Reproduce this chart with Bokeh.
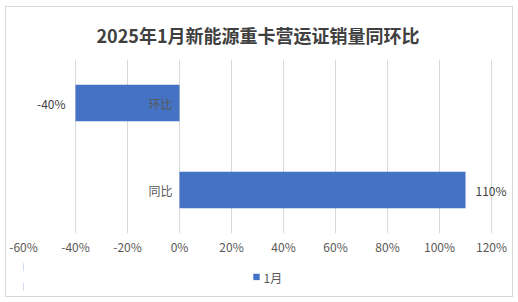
from bokeh.plotting import figure
from bokeh.layouts import column
from bokeh.models import (ColumnDataSource, FactorRange, Range1d, FixedTicker,
                          PrintfTickFormatter, Legend, LegendItem)
from bokeh.core.properties import value
from bokeh.embed import file_html
from bokeh.resources import INLINE

title_text = "2025年1月新能源重卡营运证销量同环比"
categories = ["环比", "同比"]
values_pct = [-40, 110]
series_name = "1月"
x_ticks = [-60, -40, -20, 0, 20, 40, 60, 80, 100, 120]

FONT = "Noto Sans CJK SC"
BAR = "#4472C4"
GRID = "#d9d9d9"
TXT = "#595959"

labels = [f"{v:.0f}%" for v in values_pct]
src = ColumnDataSource(dict(
    cat=categories,
    val=values_pct,
    zero=[0] * len(values_pct),
    lab=labels,
))

# 20% per 52 px; frame extends right so the outer data label fits
p = figure(width=506, height=250, output_backend="svg", toolbar_location=None,
           y_range=FactorRange(factors=list(reversed(categories))),
           x_range=Range1d(x_ticks[0], x_ticks[-1] + 21 * 20 / 52),
           min_border_left=17, min_border_right=0,
           min_border_top=52, min_border_bottom=24)
p.outline_line_color = None
p.background_fill_color = "white"
p.border_fill_color = "white"

p.title.text = title_text
p.title.align = "left"
p.title.offset = 73
p.title.vertical_align = "middle"
p.title.text_font = FONT
p.title.text_font_size = "18px"
p.title.text_font_style = "bold"
p.title.text_color = "#404040"
p.title.standoff = 22

r = p.hbar(y="cat", left="zero", right="val", height=0.42, source=src,
           fill_color=BAR, line_color=None)

# data labels: negative to the left of the bar end, positive to the right
neg = ColumnDataSource(dict(
    x=[v for v in values_pct if v < 0],
    y=[c for c, v in zip(categories, values_pct) if v < 0],
    t=[l for l, v in zip(labels, values_pct) if v < 0]))
pos = ColumnDataSource(dict(
    x=[v for v in values_pct if v >= 0],
    y=[c for c, v in zip(categories, values_pct) if v >= 0],
    t=[l for l, v in zip(labels, values_pct) if v >= 0]))
p.text(x="x", y="y", text="t", source=neg, text_align="right", x_offset=-10,
       text_baseline="middle", text_font=value(FONT),
       text_font_size="12px", text_color="#404040")
p.text(x="x", y="y", text="t", source=pos, text_align="left", x_offset=10,
       text_baseline="middle", text_font=value(FONT),
       text_font_size="12px", text_color="#404040")
# category labels next to the zero axis
p.text(x="zero", y="cat", text="cat", source=src, text_align="right",
       x_offset=-7, text_baseline="middle", text_font=value(FONT),
       text_font_size="12px", text_color=TXT)

p.xaxis.ticker = FixedTicker(ticks=x_ticks)
p.xaxis.formatter = PrintfTickFormatter(format="%d%%")
p.xaxis.axis_line_color = None
p.xaxis.major_tick_line_color = None
p.xaxis.minor_tick_line_color = None
p.xaxis.major_tick_out = 0
p.xaxis.major_tick_in = 0
p.xaxis.major_label_standoff = 4
p.xaxis.major_label_text_font = FONT
p.xaxis.major_label_text_font_size = "12px"
p.xaxis.major_label_text_color = TXT

p.yaxis.visible = False
p.ygrid.grid_line_color = None
p.xgrid.grid_line_color = GRID
p.xgrid.grid_line_width = 1

# legend strip below the chart; its key renderer's bars lie outside its view
pl = figure(width=506, height=39, output_backend="svg", toolbar_location=None,
            x_axis_type=None, y_axis_type=None,
            y_range=FactorRange(factors=list(reversed(categories))),
            x_range=Range1d(x_ticks[-1], x_ticks[-1] + 20),
            min_border_left=0, min_border_right=0,
            min_border_top=0, min_border_bottom=0)
pl.outline_line_color = None
pl.grid.visible = False
pl.border_fill_color = "white"
pl.background_fill_color = "white"
key = pl.hbar(y="cat", left="zero", right="val", height=0.42, source=src,
              fill_color=BAR, line_color=None)
legend = Legend(items=[LegendItem(label=series_name, renderers=[key])],
                orientation="horizontal", location="center",
                glyph_width=8, glyph_height=8, label_text_font=FONT,
                label_text_font_size="12px", label_text_color=TXT,
                border_line_color=None, background_fill_alpha=0,
                padding=2, margin=0, label_standoff=4)
pl.add_layout(legend, "center")

layout = column(p, pl, spacing=0, margin=(6, 0, 0, 5),
                styles={"border": "1px solid #d9d9d9"})

open("out.html", "w").write(file_html(layout, INLINE))
